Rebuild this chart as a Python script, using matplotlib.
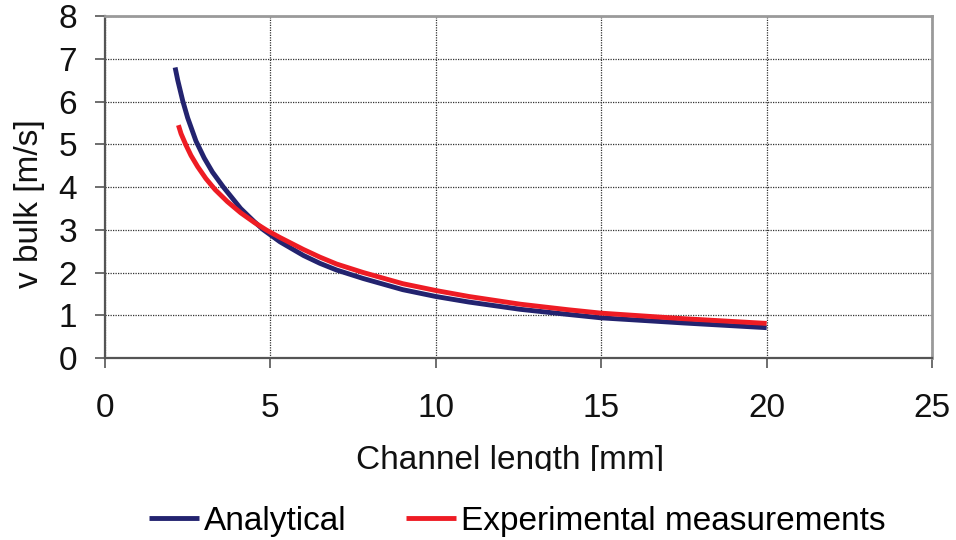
import matplotlib
matplotlib.use("Agg")
import matplotlib.pyplot as plt
from matplotlib.transforms import Bbox

plt.rcParams['font.family'] = ['Liberation Sans', 'DejaVu Sans']

# values
x_analytical = [2.12, 2.2, 2.35, 2.5, 2.75, 3.0, 3.25, 3.58, 4.1, 4.5, 4.79, 5.29, 6.0, 6.5, 7.0,
                7.81, 9.0, 10.0, 11.0, 12.55, 14.0, 15.0, 17.5, 20.0]
y_analytical = [6.8, 6.5, 6.02, 5.62, 5.08, 4.68, 4.35, 4.0, 3.5, 3.2, 3.0, 2.72, 2.4, 2.215, 2.06,
                1.86, 1.6, 1.44, 1.31, 1.14, 1.02, 0.94, 0.82, 0.71]

x_experimental = [2.22, 2.3, 2.45, 2.6, 2.8, 3.05, 3.33, 3.7, 4.1, 4.5, 4.89, 5.29, 6.0, 6.5, 7.0,
                  7.81, 9.0, 10.0, 11.0, 12.55, 14.0, 15.0, 17.5, 20.0]
y_experimental = [5.45, 5.25, 4.98, 4.74, 4.48, 4.2, 3.94, 3.66, 3.4, 3.18, 2.99, 2.82, 2.54, 2.36, 2.2,
                  2.0, 1.74, 1.58, 1.44, 1.26, 1.13, 1.05, 0.92, 0.81]

xticks = [0, 5, 10, 15, 20, 25]
yticks = [0, 1, 2, 3, 4, 5, 6, 7, 8]

fig = plt.figure(figsize=(9.56, 5.4), dpi=100)
ax = fig.add_axes([0.1098, 0.337, 0.975 - 0.1098, 0.970 - 0.337])

ax.plot(x_analytical, y_analytical, color='#23236f', lw=3.5, label='Analytical',
        solid_capstyle='butt', solid_joinstyle='round', zorder=3)
ax.plot(x_experimental, y_experimental, color='#ee1c24', lw=3.5, label='Experimental measurements',
        solid_capstyle='butt', solid_joinstyle='round', zorder=4)

ax.set_xlim(0, 25)
ax.set_ylim(0, 8)
ax.set_xticks(xticks)
ax.set_yticks(yticks)
ax.grid(True, linestyle=(0, (1, 1)), color='#333333', lw=0.9)
ax.set_axisbelow(True)

ax.tick_params(axis='both', direction='out', length=7, width=1.2, color='#555555',
               labelsize=24, colors='#555555', labelcolor='#111111')
ax.tick_params(axis='y', pad=13)
ax.tick_params(axis='x', pad=18)

for s in ['left', 'bottom']:
    ax.spines[s].set_color('#555555')
    ax.spines[s].set_linewidth(1.6)
for s in ['top', 'right']:
    ax.spines[s].set_color('#9a9a9a')
    ax.spines[s].set_linewidth(2.0)

ax.set_ylabel('v bulk [m/s]', fontsize=24, color='#111111')
ax.yaxis.set_label_coords(-0.0725, 0.453)
xl = ax.set_xlabel('Channel length [mm]', fontsize=24, color='#111111')
ax.xaxis.set_label_coords(0.49, -0.255)
# the original has the bottom of the x label cut off
xl.set_clip_box(Bbox([[0, 540 - 471], [956, 540]]))
xl.set_clip_on(True)

fig.legend(loc='center', bbox_to_anchor=(0.541, 0.034), ncol=2, frameon=False,
           fontsize=24, handlelength=1.5, handletextpad=0.15, columnspacing=1.8)

fig.savefig('out.png', dpi=100)
